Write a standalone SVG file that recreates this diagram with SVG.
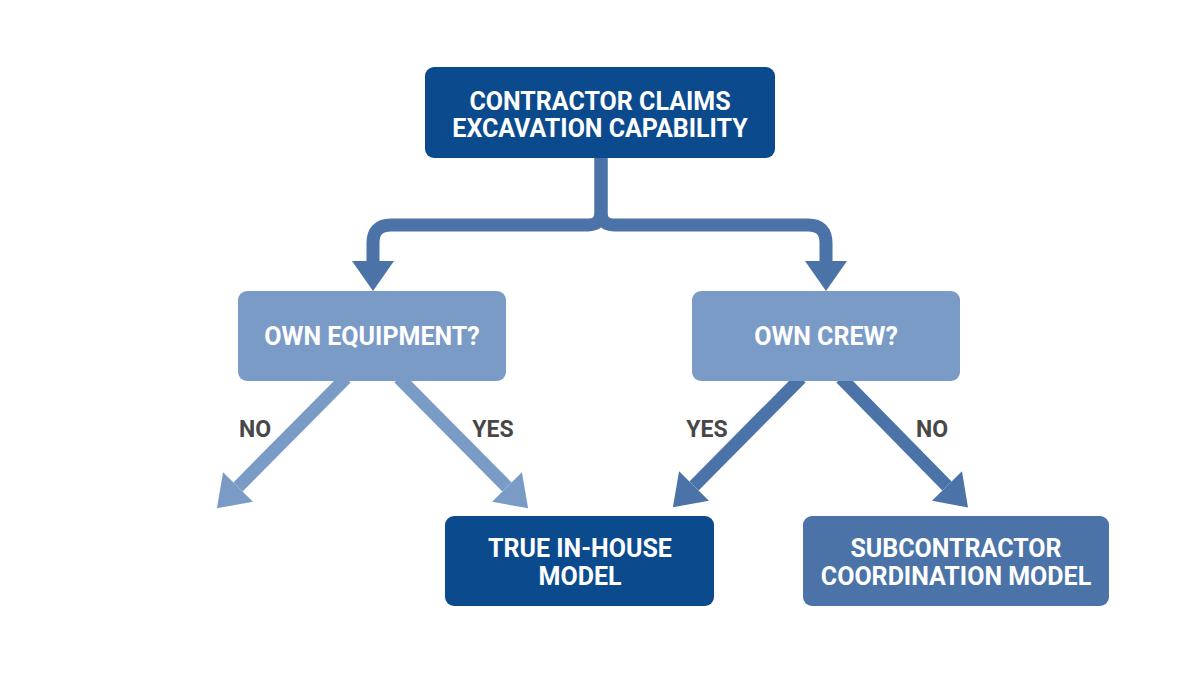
<svg xmlns="http://www.w3.org/2000/svg" width="1200" height="675" viewBox="0 0 1200 675">
  <style>
    .dark { fill: #0c4a8e; }
    .mid { fill: #4b73a8; }
    .light { fill: #7b9bc7; }
    .t { font-family: Roboto, "Liberation Sans", sans-serif; font-weight: 700; font-size: 25px; fill: #ffffff; text-anchor: middle; }
    .lbl { font-family: Roboto, "Liberation Sans", sans-serif; font-weight: 700; font-size: 23px; fill: #474747; text-anchor: middle; }
    .sh { fill: none; stroke-width: 13; stroke-linecap: butt; stroke-linejoin: round; }
  </style>
  <defs>
    <marker id="hm" markerUnits="userSpaceOnUse" markerWidth="32" markerHeight="44" viewBox="0 -22 32 44" refX="0" refY="0" orient="auto" overflow="visible">
      <path d="M0,-21 L30,0 L0,21 Z" fill="#4b73a8"/>
    </marker>
    <marker id="hl" markerUnits="userSpaceOnUse" markerWidth="32" markerHeight="44" viewBox="0 -22 32 44" refX="0" refY="0" orient="auto" overflow="visible">
      <path d="M0,-21 L30,0 L0,21 Z" fill="#7b9bc7"/>
    </marker>
  </defs>
  <rect width="1200" height="675" fill="#ffffff"/>
  <g id="connectors">
    <path class="sh" stroke="#4b73a8" d="M601,156 V212 Q601,225 588,225 H391 Q373,225 373,243 V261" marker-end="url(#hm)"/>
    <path class="sh" stroke="#4b73a8" d="M601,156 V212 Q601,225 614,225 H808 Q826,225 826,243 V261" marker-end="url(#hm)"/>
    <path class="sh" stroke="#7b9bc7" d="M346,378 L238,487" marker-end="url(#hl)"/>
    <path class="sh" stroke="#7b9bc7" d="M399,378 L507,487" marker-end="url(#hl)"/>
    <path class="sh" stroke="#4b73a8" d="M801,378 L694,486" marker-end="url(#hm)"/>
    <path class="sh" stroke="#4b73a8" d="M841,378 L947,486" marker-end="url(#hm)"/>
    <text class="lbl" x="255" y="437">NO</text>
    <text class="lbl" x="493" y="437">YES</text>
    <text class="lbl" x="707" y="437">YES</text>
    <text class="lbl" x="932" y="437">NO</text>
  </g>
  <g id="node-contractor">
    <rect class="dark" x="425" y="67" width="350" height="91" rx="9"/>
    <text class="t" x="600" y="110">CONTRACTOR CLAIMS</text>
    <text class="t" x="600" y="137">EXCAVATION CAPABILITY</text>
  </g>
  <g id="node-equipment">
    <rect class="light" x="238" y="291" width="268" height="90" rx="9"/>
    <text class="t" x="372" y="345">OWN EQUIPMENT?</text>
  </g>
  <g id="node-crew">
    <rect class="light" x="692" y="291" width="268" height="90" rx="9"/>
    <text class="t" x="826" y="345">OWN CREW?</text>
  </g>
  <g id="node-inhouse">
    <rect class="dark" x="445" y="516" width="269" height="90" rx="9"/>
    <text class="t" x="580" y="557">TRUE IN-HOUSE</text>
    <text class="t" x="580" y="585">MODEL</text>
  </g>
  <g id="node-subcontractor">
    <rect class="mid" x="803" y="516" width="306" height="90" rx="9"/>
    <text class="t" x="956" y="557">SUBCONTRACTOR</text>
    <text class="t" x="956" y="585">COORDINATION MODEL</text>
  </g>
</svg>
